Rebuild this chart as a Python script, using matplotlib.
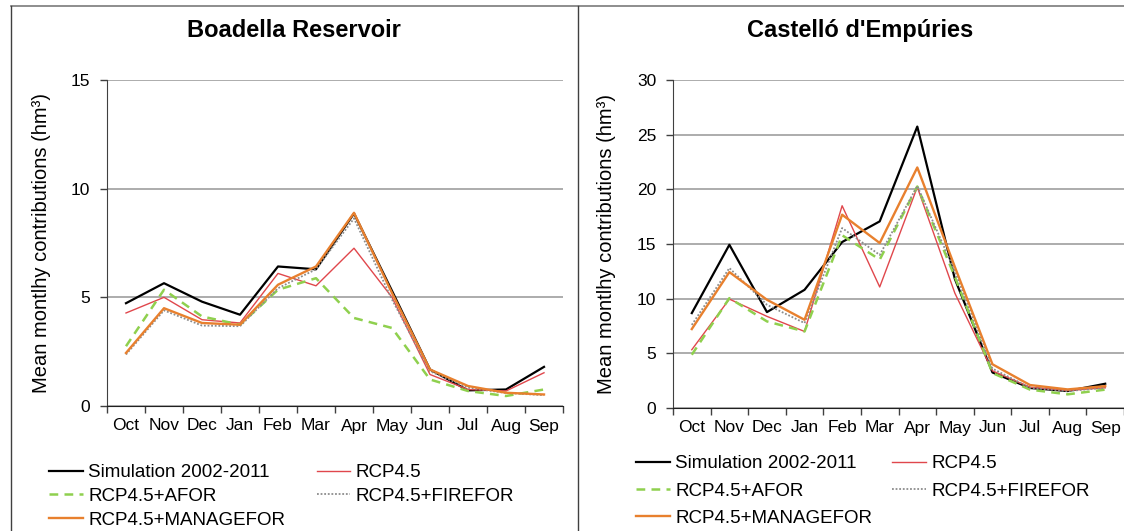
import matplotlib
matplotlib.use("Agg")
import matplotlib.pyplot as plt
from matplotlib.lines import Line2D
import numpy as np

plt.rcParams['font.family'] = ['Liberation Sans', 'DejaVu Sans']

months = ["Oct", "Nov", "Dec", "Jan", "Feb", "Mar", "Apr", "May", "Jun", "Jul", "Aug", "Sep"]
series_names = ["Simulation 2002-2011", "RCP4.5", "RCP4.5+AFOR", "RCP4.5+FIREFOR", "RCP4.5+MANAGEFOR"]

# Boadella Reservoir (hm3)
sim_b = [4.73, 5.65, 4.80, 4.20, 6.42, 6.29, 8.86, 5.30, 1.68, 0.72, 0.76, 1.80]
rcp_b = [4.28, 5.00, 3.97, 3.82, 6.10, 5.53, 7.26, 5.00, 1.45, 0.76, 0.69, 1.53]
afor_b = [2.75, 5.35, 4.12, 3.74, 5.35, 5.88, 4.05, 3.59, 1.22, 0.69, 0.46, 0.76]
fire_b = [2.37, 4.40, 3.70, 3.67, 5.42, 6.29, 8.63, 4.90, 1.60, 0.84, 0.60, 0.50]
manage_b = [2.44, 4.50, 3.82, 3.74, 5.58, 6.42, 8.89, 5.20, 1.68, 0.92, 0.61, 0.53]

# Castelló d'Empúries (hm3)
sim_c = [8.68, 14.93, 8.77, 10.81, 15.18, 17.07, 25.74, 11.80, 3.25, 1.83, 1.55, 2.22]
rcp_c = [5.33, 9.96, 8.38, 7.00, 18.50, 11.07, 20.20, 10.50, 3.40, 1.90, 1.60, 1.85]
afor_c = [4.87, 10.05, 7.92, 7.00, 15.80, 13.57, 20.26, 12.00, 3.20, 1.68, 1.25, 1.68]
fire_c = [7.60, 12.80, 9.44, 7.77, 16.46, 14.00, 20.30, 12.50, 3.60, 1.85, 1.55, 1.85]
manage_c = [7.22, 12.43, 9.90, 8.07, 17.68, 15.09, 22.00, 12.90, 4.00, 2.10, 1.70, 2.00]

styles = {
    "Simulation 2002-2011": dict(color="#000000", lw=1.6, ls="-"),
    "RCP4.5": dict(color="#e0474c", lw=1.0, ls="-"),
    "RCP4.5+AFOR": dict(color="#8fd04e", lw=1.8, ls=(0, (3.5, 2.5))),
    "RCP4.5+FIREFOR": dict(color="#8c8c8c", lw=1.3, ls=(0, (1, 1))),
    "RCP4.5+MANAGEFOR": dict(color="#e8802e", lw=1.7, ls="-"),
}

W, H = 1124, 531
fig = plt.figure(figsize=(W / 100, H / 100), dpi=100)
fig.patch.set_facecolor("white")


def fx(px):
    return px / W


def fy(py):
    return 1 - py / H


def make_panel(rect, data, ymax, title, title_x, ylab_x, leg_anchor, colspace, labspace):
    ax = fig.add_axes(rect)
    x = np.arange(len(months))
    handles = {}
    for name, vals in zip(series_names, data):
        st = styles[name]
        (ln,) = ax.plot(x, vals, color=st["color"], lw=st["lw"], ls=st["ls"], label=name)
        handles[name] = ln
    ax.set_xlim(-0.5, len(months) - 0.5)
    ax.set_ylim(0, ymax)
    ax.set_yticks(np.arange(0, ymax + 0.1, 5))
    ax.yaxis.grid(True, color="#a6a6a6", lw=1.3)
    ax.set_axisbelow(True)
    ax.set_xticks(np.arange(-0.5, len(months), 1.0))
    ax.set_xticklabels([])
    ax.set_xticks(x, minor=True)
    ax.set_xticklabels(months, minor=True)
    ax.tick_params(axis="x", which="major", length=5, width=1, color="#404040", direction="out")
    ax.tick_params(axis="x", which="minor", length=0, pad=9, labelsize=12.5)
    ax.tick_params(axis="y", length=5, width=1, color="#404040", pad=7, labelsize=12.5)
    for s in ["top", "right"]:
        ax.spines[s].set_visible(False)
    ax.spines["left"].set_color("#404040")
    ax.spines["bottom"].set_color("#202020")
    ax.set_ylabel("Mean montlhy contributions (hm³)", fontsize=14.5)
    ax.yaxis.set_label_coords(ylab_x, 0.5)
    fig.text(title_x, fy(31), title, ha="center", va="center", fontsize=17, fontweight="bold")
    order = ["Simulation 2002-2011", "RCP4.5+AFOR", "RCP4.5+MANAGEFOR", "RCP4.5", "RCP4.5+FIREFOR"]
    ax.legend([handles[n] for n in order], order, ncol=2, loc="upper left",
              bbox_to_anchor=leg_anchor, bbox_transform=fig.transFigure,
              frameon=False, borderpad=0, borderaxespad=0, handlelength=1.8,
              handletextpad=0.3, labelspacing=labspace, columnspacing=colspace, fontsize=13.5)
    return ax


make_panel([fx(107), fy(406), fx(563) - fx(107), fy(80) - fy(406)],
           [sim_b, rcp_b, afor_b, fire_b, manage_b], 15, "Boadella Reservoir",
           fx(294), -0.123, (fx(49), fy(464)), 1.66, 0.36)
make_panel([fx(673), fy(408), fx(1124) - fx(673), fy(80) - fy(408)],
           [sim_c, rcp_c, afor_c, fire_c, manage_c], 30, "Castelló d'Empúries",
           fx(860), -0.1265, (fx(636), fy(455)), 1.07, 0.55)

# panel frames
fig.add_artist(Line2D([fx(11), 1.0], [fy(6), fy(6)], color="#7a7a7a", lw=1.2))
fig.add_artist(Line2D([fx(11), fx(11)], [fy(6), 0], color="#404040", lw=1.0))
fig.add_artist(Line2D([fx(578), fx(578)], [fy(6), 0], color="#404040", lw=1.0))

fig.savefig("out.png", dpi=100, facecolor="white")
